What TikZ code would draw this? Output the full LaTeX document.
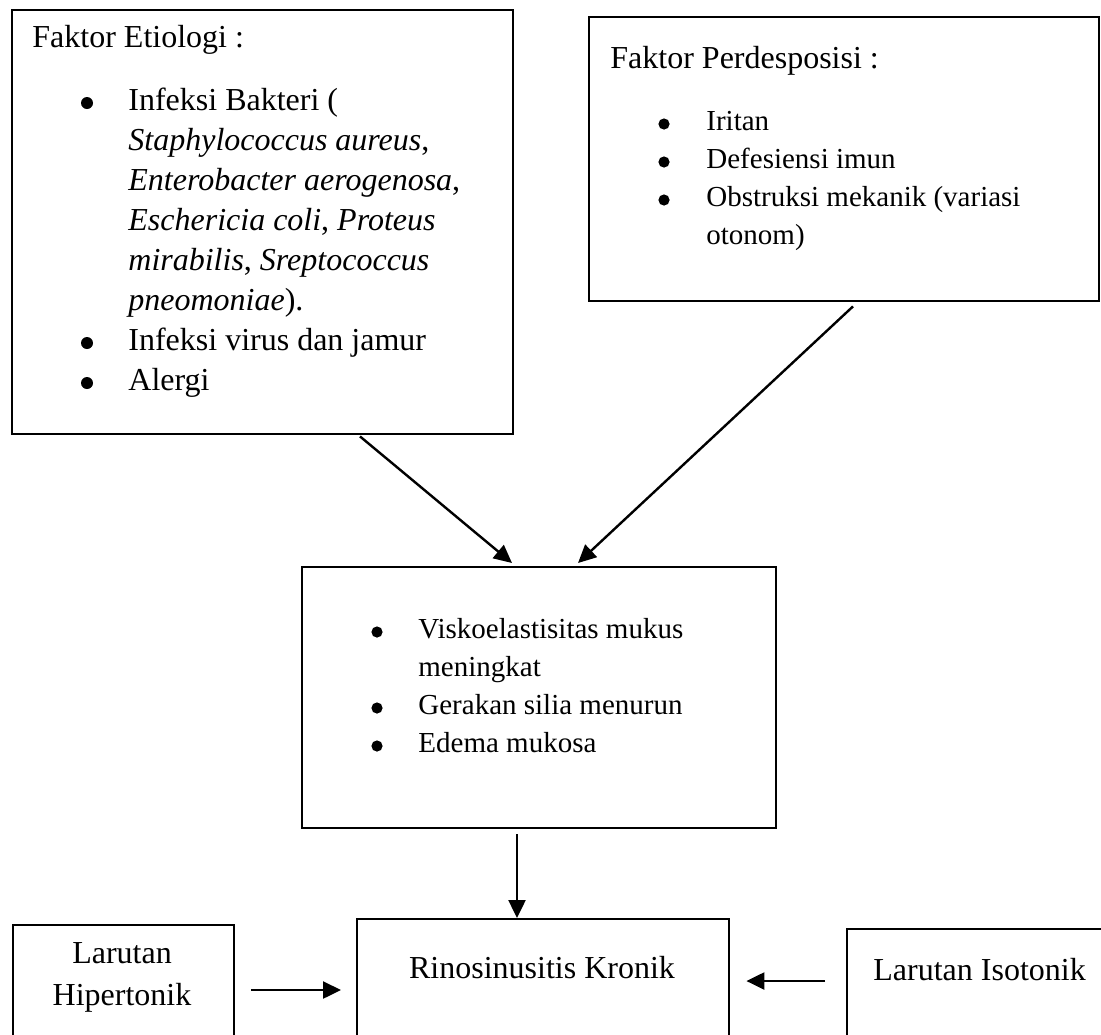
\documentclass[tikz,border=0pt]{standalone}
\usepackage{fontspec}
\setmainfont{Liberation Serif}
\usetikzlibrary{arrows.meta,calc}
\begin{document}
\begin{tikzpicture}[x=0.5pt,y=-0.5pt,
  box/.style={draw, line width=1.2pt, inner sep=0pt, anchor=north west},
  big/.style={inner sep=0pt, anchor=base west, font=\fontsize{16}{20}\selectfont},
  bigc/.style={inner sep=0pt, anchor=base, font=\fontsize{16}{20}\selectfont},
  small/.style={inner sep=0pt, anchor=base west, font=\fontsize{14.5}{19}\selectfont},
  bul/.style={circle, fill=black, inner sep=0pt, minimum size=6pt},
  buls/.style={circle, fill=black, inner sep=0pt, minimum size=5.6pt},
  arr/.style={-{Triangle[length=9pt,width=8.5pt]}, line width=1.2pt}
]
\useasboundingbox (0,0) rectangle (1101,1034);
\fill[white] (0,0) rectangle (1101,1034);
\clip (0,0) rectangle (1101,1034);

% boxes
\node[box, minimum width=250.5pt, minimum height=212pt] (b1) at (11,9) {};
\node[box, minimum width=255pt, minimum height=142pt] (b2) at (588,16) {};
\node[box, minimum width=237pt, minimum height=130.5pt] (b3) at (301,566) {};
\node[box, minimum width=110.5pt, minimum height=62pt] (bl) at (12,924) {};
\node[box, minimum width=186pt, minimum height=65pt] (bm) at (356,918) {};
\node[box, minimum width=132pt, minimum height=60pt] (br) at (846,928) {};

% box 1 text
\node[big] (t1) at (32,47) {Faktor Etiologi :};
\node[bul] (u11) at (87,103) {};
\node[big] (t11a) at (128,110) {Infeksi Bakteri (};
\node[big] (t11b) at (128,150) {\textit{Staphylococcus aureus},};
\node[big] (t11c) at (128,190) {\textit{Enterobacter aerogenosa},};
\node[big] (t11d) at (128,230) {\textit{Eschericia coli}, \textit{Proteus}};
\node[big] (t11e) at (128,270) {\textit{mirabilis}, \textit{Sreptococcus}};
\node[big] (t11f) at (128,310) {\textit{pneomoniae}).};
\node[bul] (u12) at (87,343) {};
\node[big] (t12) at (128,350) {Infeksi virus dan jamur};
\node[bul] (u13) at (87,383) {};
\node[big] (t13) at (128,390) {Alergi};

% box 2 text
\node[big] (t2) at (610,68) {Faktor Perdesposisi :};
\node[buls] (u21) at (664,124) {};
\node[small] (t21) at (706,130) {Iritan};
\node[buls] (u22) at (664,162) {};
\node[small] (t22) at (706,168) {Defesiensi imun};
\node[buls] (u23) at (664,200) {};
\node[small] (t23a) at (706,206) {Obstruksi mekanik (variasi};
\node[small] (t23b) at (706,244) {otonom)};

% box 3 text
\node[buls] (u31) at (377,632) {};
\node[small] (t31a) at (418,638) {Viskoelastisitas mukus};
\node[small] (t31b) at (418,676) {meningkat};
\node[buls] (u32) at (377,708) {};
\node[small] (t32) at (418,714) {Gerakan silia menurun};
\node[buls] (u33) at (377,746) {};
\node[small] (t33) at (418,752) {Edema mukosa};

% bottom texts
\node[bigc] (tla) at (122,963) {Larutan};
\node[bigc] (tlb) at (122,1005) {Hipertonik};
\node[bigc] (tm) at (542,978) {Rinosinusitis Kronik};
\node[big] (tr) at (873,980) {Larutan Isotonik};

% arrows
\draw[arr] ($(b1.south west)+(349,1)$) -- ($(b3.north west)+(211,-3)$);
\draw[arr] ($(b2.south west)+(265,4)$) -- ($(b3.north west)+(277,-3)$);
\draw[arr] ($(b3.south west)+(216,5)$) -- ($(bm.north west)+(161,0)$);
\draw[arr] ($(bl.north east)+(16,66)$) -- ($(bm.north west)+(-15,72)$);
\draw[arr] ($(br.north west)+(-21,53)$) -- ($(bm.north east)+(16,63)$);
\end{tikzpicture}
\end{document}
